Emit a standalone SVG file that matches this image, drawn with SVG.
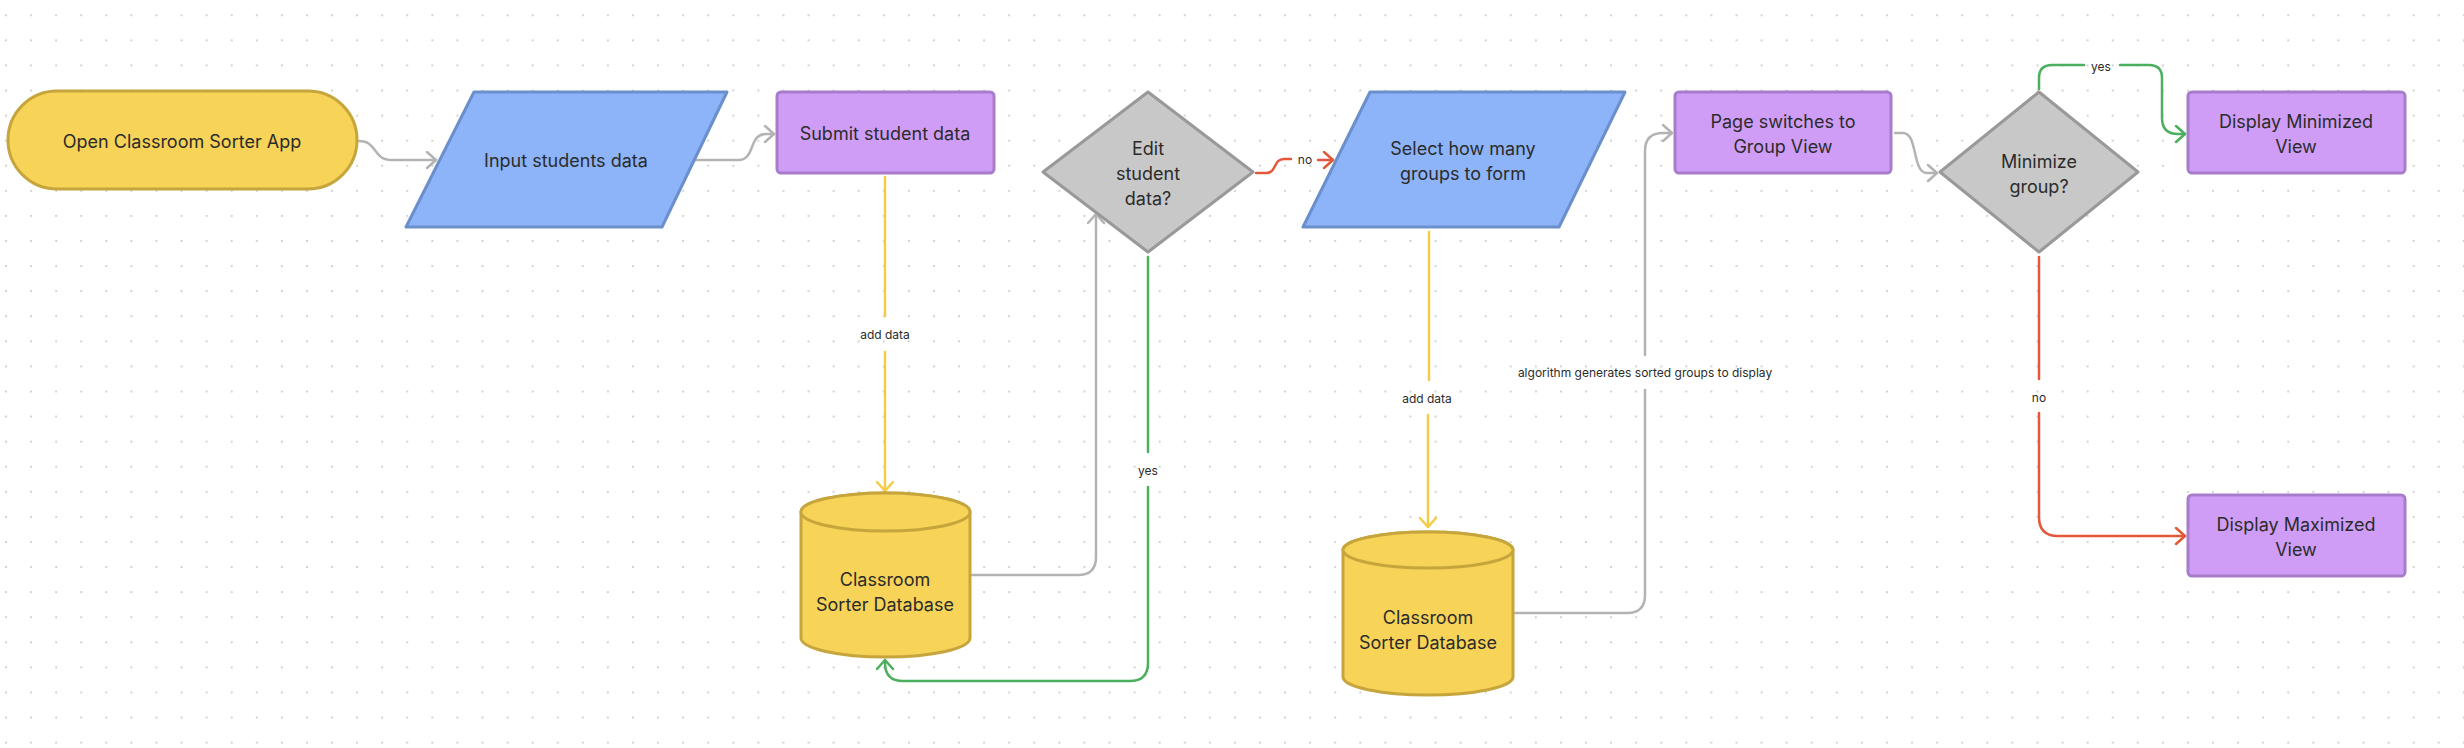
<svg xmlns="http://www.w3.org/2000/svg" width="2464" height="748" viewBox="0 0 2464 748">
<style>
text{font-family:Inter,"Liberation Sans",Arial,sans-serif;fill:#2b2b2b;text-anchor:middle;dominant-baseline:central}
.n{font-size:18px}
.l{font-size:12px}
.yel{fill:#f7d358;stroke:#c6a53c;stroke-width:3}
.blu{fill:#8db4f8;stroke:#6a8fcc;stroke-width:3;stroke-linejoin:round}
.pur{fill:#d09df6;stroke:#a77dcb;stroke-width:3}
.gry{fill:#c8c8c8;stroke:#999;stroke-width:3;stroke-linejoin:round}
.c{fill:none;stroke-width:2.5;stroke-linecap:round}
.cg{stroke:#b3b3b3}.cy{stroke:#f6cb45}.cgr{stroke:#4caf5e}.cr{stroke:#e4573a}
</style>
<defs>
<pattern id="dots" x="5" y="14.3" width="25.08" height="25.08" patternUnits="userSpaceOnUse">
<circle cx="1" cy="1" r="1.1" fill="#cfcfcf"/>
</pattern>
<marker id="ag" markerUnits="userSpaceOnUse" markerWidth="14" markerHeight="20" refX="11" refY="9" orient="auto"><path d="M2,1 L11,9 L2,17" fill="none" stroke="#b3b3b3" stroke-width="2.5" stroke-linecap="round" stroke-linejoin="round"/></marker>
<marker id="ay" markerUnits="userSpaceOnUse" markerWidth="14" markerHeight="20" refX="11" refY="9" orient="auto"><path d="M2,1 L11,9 L2,17" fill="none" stroke="#f6cb45" stroke-width="2.5" stroke-linecap="round" stroke-linejoin="round"/></marker>
<marker id="agr" markerUnits="userSpaceOnUse" markerWidth="14" markerHeight="20" refX="11" refY="9" orient="auto"><path d="M2,1 L11,9 L2,17" fill="none" stroke="#4caf5e" stroke-width="2.5" stroke-linecap="round" stroke-linejoin="round"/></marker>
<marker id="ar" markerUnits="userSpaceOnUse" markerWidth="14" markerHeight="20" refX="11" refY="9" orient="auto"><path d="M2,1 L11,9 L2,17" fill="none" stroke="#e4573a" stroke-width="2.5" stroke-linecap="round" stroke-linejoin="round"/></marker>
</defs>
<rect width="2464" height="748" fill="#fff"/>
<rect width="2464" height="748" fill="url(#dots)"/>

<g id="connectors">
<path class="c cg" d="M359,141 C378,141 372,160 392,160 H436" marker-end="url(#ag)"/>
<path class="c cg" d="M696,160 H738 C756,160 748,134 766,134 H774" marker-end="url(#ag)"/>
<path class="c cy" d="M885,177 V316"/>
<path class="c cy" d="M885,352 V491" marker-end="url(#ay)"/>
<text class="l" x="885" y="334">add data</text>
<path class="c cg" d="M972,575 H1078 Q1096,575 1096,557 V214" marker-end="url(#ag)"/>
<path class="c cgr" d="M1148,257 V452"/>
<path class="c cgr" d="M1148,487 V663 Q1148,681 1130,681 H903 Q885,681 885,663 V660" marker-end="url(#agr)"/>
<text class="l" x="1148" y="470">yes</text>
<path class="c cr" d="M1256,173 H1266 C1277,173 1273,159 1284,159 H1291"/>
<path class="c cr" d="M1318,160 H1333" marker-end="url(#ar)"/>
<text class="l" x="1305" y="159">no</text>
<path class="c cy" d="M1429,232 V380"/>
<path class="c cy" d="M1428,415 V527" marker-end="url(#ay)"/>
<text class="l" x="1427" y="398">add data</text>
<path class="c cg" d="M1514,613 H1627 Q1645,613 1645,595 V390"/>
<path class="c cg" d="M1645,355 V151 Q1645,133 1663,133 H1672" marker-end="url(#ag)"/>
<text class="l" x="1645" y="372">algorithm generates sorted groups to display</text>
<path class="c cg" d="M1895,133 H1903 C1918,133 1912,173 1927,173 H1937" marker-end="url(#ag)"/>
<path class="c cgr" d="M2039,89 V78 Q2039,65 2052,65 H2084"/>
<path class="c cgr" d="M2120,65 H2149 Q2162,65 2162,78 V118 Q2162,134 2178,134 H2185" marker-end="url(#agr)"/>
<text class="l" x="2101" y="66">yes</text>
<path class="c cr" d="M2039,257 V379"/>
<path class="c cr" d="M2039,413 V517 Q2039,536 2058,536 H2185" marker-end="url(#ar)"/>
<text class="l" x="2039" y="397">no</text>
</g>

<g id="start">
<rect class="yel" x="8" y="91" width="349" height="98" rx="49"/>
<text class="n" x="182" y="141">Open Classroom Sorter App</text>
</g>
<g id="input">
<path class="blu" d="M474,92 H727 L662,227 H406 Z"/>
<text class="n" x="566" y="160">Input students data</text>
</g>
<g id="submit">
<rect class="pur" x="777" y="92" width="217" height="81" rx="4"/>
<text class="n" x="885" y="133">Submit student data</text>
</g>
<g id="edit">
<path class="gry" d="M1148,92 L1253,172 L1148,252 L1043,172 Z"/>
<text class="n" x="1148" y="148">Edit</text>
<text class="n" x="1148" y="173">student</text>
<text class="n" x="1148" y="198">data?</text>
</g>
<g id="db1">
<path class="yel" d="M801,512 V638 A84.5,19 0 0 0 970,638 V512 A84.5,19 0 0 0 801,512 Z"/>
<ellipse class="yel" cx="885.5" cy="512" rx="84.5" ry="19"/>
<text class="n" x="885" y="579">Classroom</text>
<text class="n" x="885" y="604">Sorter Database</text>
</g>
<g id="select">
<path class="blu" d="M1370,92 H1625 L1559,227 H1303 Z"/>
<text class="n" x="1463" y="148">Select how many</text>
<text class="n" x="1463" y="173">groups to form</text>
</g>
<g id="db2">
<path class="yel" d="M1343,550 V677 A85,18 0 0 0 1513,677 V550 A85,18 0 0 0 1343,550 Z"/>
<ellipse class="yel" cx="1428" cy="550" rx="85" ry="18"/>
<text class="n" x="1428" y="617">Classroom</text>
<text class="n" x="1428" y="642">Sorter Database</text>
</g>
<g id="page">
<rect class="pur" x="1675" y="92" width="216" height="81" rx="4"/>
<text class="n" x="1783" y="121">Page switches to</text>
<text class="n" x="1783" y="146">Group View</text>
</g>
<g id="minimize">
<path class="gry" d="M2039,92 L2138,172 L2039,252 L1940,172 Z"/>
<text class="n" x="2039" y="161">Minimize</text>
<text class="n" x="2039" y="186">group?</text>
</g>
<g id="dispmin">
<rect class="pur" x="2188" y="92" width="217" height="81" rx="4"/>
<text class="n" x="2296" y="121">Display Minimized</text>
<text class="n" x="2296" y="146">View</text>
</g>
<g id="dispmax">
<rect class="pur" x="2188" y="495" width="217" height="81" rx="4"/>
<text class="n" x="2296" y="524">Display Maximized</text>
<text class="n" x="2296" y="549">View</text>
</g>
</svg>
